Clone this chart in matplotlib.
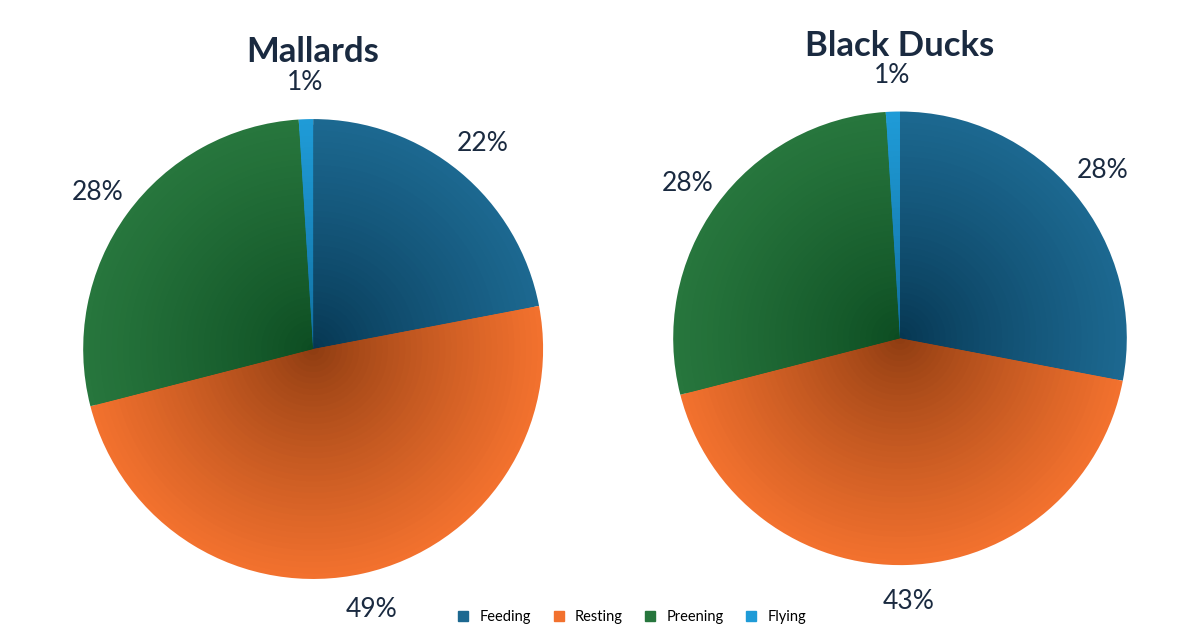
import matplotlib.pyplot as plt
import matplotlib.colors as mcolors
import numpy as np

behaviors = ["Feeding", "Resting", "Preening", "Flying"]
mallards = [22, 49, 28, 1]
black_ducks = [28, 43, 28, 1]
colors = ["#1c6890", "#f2712e", "#27763d", "#1f9bd7"]
dark = ["#05344f", "#8a3a10", "#0b4a20", "#0f6a9a"]

fig = plt.figure(figsize=(12, 6.3), dpi=100)
txt = "#1a2a40"


def grad_pie(ax, vals, title):
    n = 40
    for i in range(n):
        r = 1 - i / n
        t = r ** 0.8
        cols = [mcolors.to_rgb(d) for d in dark]
        cols = [tuple(np.array(d) * (1 - t) + np.array(mcolors.to_rgb(c)) * t)
                for d, c in zip(cols, colors)]
        ax.pie(vals, colors=cols, radius=r, startangle=90, counterclock=False,
               wedgeprops=dict(linewidth=0))
    # percentage labels outside
    ang = 90.0
    total = sum(vals)
    for v in vals:
        mid = ang - v / total * 360 / 2
        ang -= v / total * 360
        rr = 1.16
        ax.text(rr * np.cos(np.radians(mid)), rr * np.sin(np.radians(mid)), f"{v}%",
                ha="center", va="center", fontsize=19, color=txt, family="Lato")
    ax.set_xlim(-1, 1)
    ax.set_ylim(-1, 1)
    ax.set_aspect("equal")
    ax.axis("off")
    ax.text(0, 1.29, title, ha="center", va="center", fontsize=25,
            fontweight="bold", color=txt, family="Lato")


ax1 = fig.add_axes([0.261 - 0.1917, 0.446 - 0.365, 0.3833, 0.730])
grad_pie(ax1, mallards, "Mallards")
ax2 = fig.add_axes([0.75 - 0.189, 0.463 - 0.360, 0.378, 0.720])
grad_pie(ax2, black_ducks, "Black Ducks")

handles = [plt.Line2D([], [], marker="s", linestyle="", color=c, markersize=7) for c in colors]
fig.legend(handles, behaviors, loc="center", bbox_to_anchor=(0.523, 0.02), ncol=4,
           frameon=False, fontsize=10.5, handletextpad=0.1, columnspacing=0.9,
           prop={"family": "Lato", "size": 10.5})

fig.savefig("out.png", dpi=100)
